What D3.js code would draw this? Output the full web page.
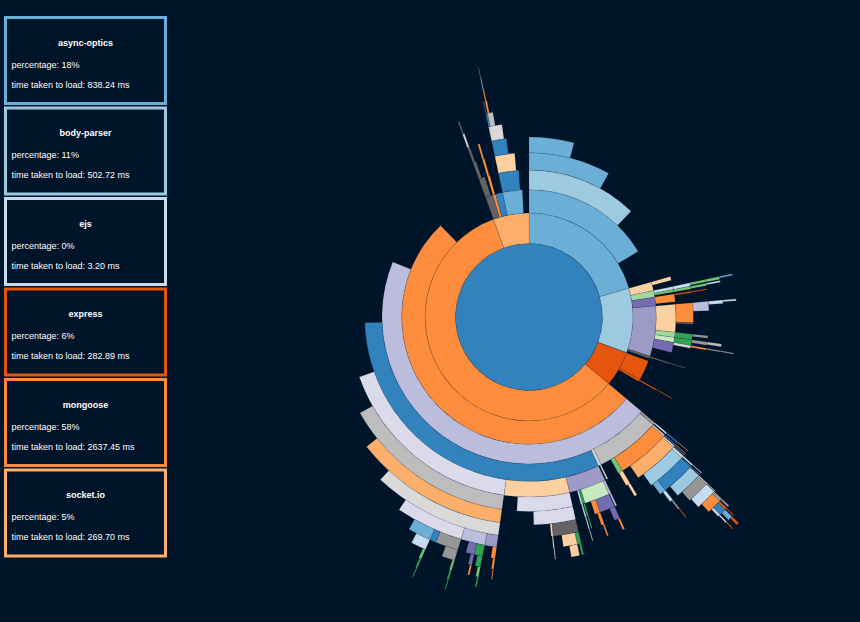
<!DOCTYPE html>
<html><head><meta charset="utf-8">
<script src="https://cdn.jsdelivr.net/npm/d3@7"></script>
<style>
html,body{margin:0;padding:0;background:#001529;}
svg{display:block;}
</style></head><body>
<svg id="chart" width="860" height="622"></svg>
<script>
// ---- legend data ----
const modules = ["async-optics", "body-parser", "ejs", "express", "mongoose", "socket.io"];
const percentages = [18, 11, 0, 6, 58, 5];
const loadTimes = [838.24, 502.72, 3.20, 282.89, 2637.45, 269.70];

// ---- package names (colour categories, in order of first use) ----
const packages = [
  "app","async-optics","body-parser","ejs","express","mongoose","socket.io","debug","ms","qs",
  "iconv-lite","safer-buffer","raw-body","http-errors","mime-types","bson","kareem","mpath","mquery","sliced",
  "isarray","lodash","bluebird","engine.io","accepts","mongodb","mime-db","negotiator","cookie","ws",
  "base64id","socket.io-parser","socket.io-adapter","has-binary2","mongodb-core","component-emitter","engine.io-parser","after","arraybuffer.slice","blob",
  "base64-arraybuffer","has-cors","yeast","parseqs","parseuri","xmlhttprequest-ssl","component-bind","component-inherit","indexof","to-array",
  "backo2","object-component","better-assert","callsite","async","semver","safe-buffer","require_optional","resolve-from","saslprep",
  "sparse-bitfield","memory-pager","regexp-clone","sift","content-type","bytes","depd","on-finished","ee-first","type-is",
  "media-typer","unpipe","setprototypeof","statuses","inherits","toidentifier","escape-html","etag","fresh","vary",
  "array-flatten","merge-descriptors","methods","path-to-regexp","proxy-addr","forwarded","ipaddr.js","range-parser","send","serve-static",
  "finalhandler","encodeurl","parseurl","utils-merge","cookie-signature","content-disposition","destroy","mime","optional","nan"
];
const palette = ["#3182bd","#6baed6","#9ecae1","#c6dbef","#e6550d","#fd8d3c","#fdae6b","#fdd0a2",
  "#31a354","#74c476","#a1d99b","#c7e9c0","#756bb1","#9e9ac8","#bcbddc","#dadaeb",
  "#636363","#969696","#bdbdbd","#d9d9d9"];

// ---- dependency tree rows: [id, parent, package, self load time] ----
const rootRow = [["root", null, "app", 0]];
const asyncOpticsDeps = [
  ["a0","root","async-optics",150],["a1","a0","lodash",150],["a2","a1","bluebird",150],
  ["a3","a2","has-cors",145],["a4","a3","memory-pager",145]
];
const bodyParserDeps = [
  ["b0","root","body-parser",10],
  ["b1","b0","debug",25],["b1a","b1","negotiator",15],
  ["b2","b0","iconv-lite",8],["b2a","b2","engine.io",0],["b2b","b2a","parseqs",4],["b2c","b2b","qs",0],
  ["b2d","b2c","ws",4],["b2e","b2d","lodash",4],
  ["b2g","b2","to-array",0],["b2h","b2g","type-is",2],["b2i","b2h","serve-static",3],["b2j","b2i","sift",5],
  ["b3","b0","raw-body",10],["b3a","b3","bytes",25],["b3b","b3a","accepts",2],["b3c","b3b","parseuri",3],
  ["b4","b0","http-errors",40],["b4a","b4","component-inherit",35],["b4b","b4a","forwarded",40],
  ["b4c","b4b","async",20],["b4d","b4c","sift",5],["b4e","b4d","path-to-regexp",5],["b4f","b4a","kareem",5],
  ["b4g","b4","media-typer",0],["b4h","b4g","ee-first",12],["b4i","b4h","etag",8],
  ["b4j","b4","unpipe",0],["b4k","b4j","send",10],["b4l","b4k","mime",2],["b4m","b4l","optional",8],
  ["b4n","b4","setprototypeof",30],["b4o","b4n","vary",4],["b4p","b4o","xmlhttprequest-ssl",2],
  ["b4q","b4p","after",1],["b4r","b4q","require_optional",3],
  ["b5","b0","safe-buffer",5],["b5a","b5","destroy",2],["b5b","b5a","escape-html",3]
];
const ejsDeps = [["j0","root","ejs",2]];
const expressDeps = [
  ["e0","root","express",95],["e1","e0","accepts",93],
  ["e2","e0","content-type",5],["e2a","e2","proxy-addr",2],["e2b","e2a","parseuri",3]
];
const mongooseDeps = [
  ["m0","root","mongoose",240],["m1","m0","mongodb",240],["m2","m1","mongodb-core",240],
  ["m3","m2","mpath",5],["m3a","m3","blob",1],["m3b","m3a","base64-arraybuffer",2],["m3c","m3b","xmlhttprequest-ssl",2],
  ["m4","m2","mquery",38],["m4s","m4","vary",2],["m4s1","m4s","array-flatten",1],["m4s2","m4s1","forwarded",2],
  ["m5","m4","bytes",29],["m5a","m5","sliced",2],["m5a1","m5a","sparse-bitfield",3],
  ["m6","m5","mime-db",18],["m6a","m6","saslprep",3],["m6a1","m6a","nan",2],["m6a2","m6a1","engine.io",2],
  ["m7","m6","yeast",5],["m7a","m7","has-cors",1],["m7a1","m7a","memory-pager",1],
  ["m8","m7","isarray",16],["m8a","m8","escape-html",1],
  ["m9","m8","regexp-clone",14],["m9a","m9","vary",1],["m9a1","m9a","blob",2],
  ["m10","m9","etag",5],["m11","m10","sift",10],["m11a","m11","mime",3],["m11a1","m11a","after",4],
  ["m12","m11","xmlhttprequest-ssl",8],["m12a","m12","proxy-addr",3],["m12a1","m12a","content-type",2],
  ["m13","m12","base64-arraybuffer",5],["m14","m13","merge-descriptors",5],["m15","m14","accepts",5],
  ["m13b","m12","nan",2],["m13c","m13b","saslprep",1],["m13d","m13c","parseuri",2],
  ["m8b","m7","memory-pager",9],["m8c","m8b","path-to-regexp",4],["m8d","m8c","require_optional",2],["m8e","m8d","content-type",2],
  ["m5b","m4","type-is",2],["m5b1","m5b","range-parser",5],["m5b2","m5b1","on-finished",8],
  ["m4b","m2","saslprep",5],["m4b1","m4b","nan",5],
  ["m16","m2","sparse-bitfield",175],
  ["m17","m16","has-binary2",25],["m17a","m17","async",2],["m17a1","m17a","inherits",5],
  ["m18","m17","socket.io-parser",18],["m18a","m18","socket.io-adapter",28],["m18b","m18a","parseurl",10],["m18c","m18b","forwarded",5],
  ["m18d","m18","xmlhttprequest-ssl",7],["m18e","m18d","bytes",4],["m18f","m18e","mongodb",4],
  ["m17b","m17","indexof",2],["m17b1","m17b","ee-first",2],["m17b2","m17b1","send",3],
  ["m17c","m17","parseqs",1],["m17c1","m17c","path-to-regexp",1],["m17c2","m17c1","engine.io",1],["m17c3","m17c2","sift",2],
  ["m19","m16","negotiator",44],["m20","m19","component-emitter",49],["m21","m20","semver",45],
  ["m22","m21","safe-buffer",22],["m22a","m22","send",5],["m22a1","m22a","cookie",5],
  ["m22b","m22","on-finished",15],["m22c","m22b","component-inherit",20],
  ["m21b","m21","debug",2],["m21c","m21b","negotiator",1],["m21d","m21c","vary",2],
  ["m23","m16","bson",101],["m24","m23","resolve-from",90],["m25","m24","component-bind",90],["m26","m25","blob",84],
  ["m27","m26","callsite",20],["m27a","m27","bytes",5],["m27b","m27a","forwarded",3],["m27c","m27b","mongodb",2],
  ["m28","m26","inherits",20],["m28a","m28","cookie",8],["m28b","m28a","ms",6],["m28c","m28b","qs",3],["m28c1","m28c","indexof",3],
  ["m28d","m28","better-assert",12],["m28e","m28d","setprototypeof",4],["m28e1","m28e","bytes",4],
  ["m29","m26","toidentifier",45],["m29a","m29","require_optional",25],["m29b","m29a","etag",25],
  ["m29c","m29b","to-array",1],["m29c1","m29c","ee-first",2],["m29c2","m29c1","cookie",2],
  ["m29d","m29","base64-arraybuffer",15],
  ["m29e","m29","has-cors",20],["m29f","m29e","parseqs",29],["m29g","m29f","serve-static",2],
  ["m29g1","m29g","send",2],["m29g2","m29g1","ms",2]
];
const socketIoDeps = [
  ["s0","root","socket.io",30],
  ["s1","s0","engine.io-parser",10],["s1a","s1","safe-buffer",13],["s1b","s1a","destroy",4],
  ["s1c","s1b","escape-html",2],["s1d","s1c","saslprep",2],["s1e","s1d","kareem",4],
  ["s2","s0","xmlhttprequest-ssl",3],["s2a","s2","bytes",2],["s2b","s2a","forwarded",2],["s2c","s2b","mongodb",6],
  ["s3","s0","isarray",32],
  ["s4","s0","lodash",10],["s4a","s4","base64-arraybuffer",10],["s4b","s4a","debug",22],
  ["s4c","s4b","sparse-bitfield",8],["s4d","s4c","blob",20],
  ["s4e","s4d","array-flatten",3],["s4e1","s4e","isarray",2],
  ["s4f","s4d","arraybuffer.slice",10],["s4g","s4f","xmlhttprequest-ssl",2],["s4h","s4g","bytes",1],
  ["s4i","s4h","yeast",1],["s4j","s4i","bluebird",1]
];

// ---- build ----
const rows = [].concat(rootRow, asyncOpticsDeps, bodyParserDeps, ejsDeps, expressDeps, mongooseDeps, socketIoDeps);
const root = d3.stratify().id(d => d[0]).parentId(d => d[1])(rows);
root.sum(d => d[3]);
d3.partition().size([2 * Math.PI, 1])(root);

const color = d3.scaleOrdinal().domain(packages).range(palette);
const radius = d3.scaleSqrt().domain([0, 1]).range([0, 294]);
const arc = d3.arc()
  .startAngle(d => d.x0).endAngle(d => d.x1)
  .innerRadius(d => radius(d.y0)).outerRadius(d => radius(d.y1));

const svg = d3.select("#chart");
svg.append("rect").attr("width", 860).attr("height", 622).attr("fill", "#001529");

svg.append("g")
  .attr("transform", "translate(529,317)")
  .selectAll("path")
  .data(root.descendants())
  .join("path")
  .attr("d", arc)
  .attr("fill", d => color(d.data[2]))
  .attr("stroke", "#001529")
  .attr("stroke-width", 0.2)
  .attr("stroke-opacity", 0.6);

// ---- legend boxes ----
const boxes = svg.append("g").attr("class", "legend")
  .selectAll("g").data(modules).join("g")
  .attr("transform", (d, i) => `translate(4,${16 + i * 90.5})`);
boxes.append("rect")
  .attr("x", 1.5).attr("y", 1.5).attr("width", 160).attr("height", 86)
  .attr("fill", "#001529").attr("stroke", d => color(d)).attr("stroke-width", 3);
boxes.append("text")
  .attr("x", 81.5).attr("y", 29.5).attr("text-anchor", "middle")
  .attr("fill", "#fff").attr("font-family", "Liberation Sans, Arial, sans-serif")
  .attr("font-size", 9).attr("font-weight", "bold").text(d => d);
boxes.append("text")
  .attr("x", 7.5).attr("y", 51.5)
  .attr("fill", "#fff").attr("font-family", "Liberation Sans, Arial, sans-serif")
  .attr("font-size", 9).text((d, i) => `percentage: ${percentages[i]}%`);
boxes.append("text")
  .attr("x", 7.5).attr("y", 71.5)
  .attr("fill", "#fff").attr("font-family", "Liberation Sans, Arial, sans-serif")
  .attr("font-size", 9).text((d, i) => `time taken to load: ${loadTimes[i].toFixed(2)} ms`);
</script>
</body></html>
